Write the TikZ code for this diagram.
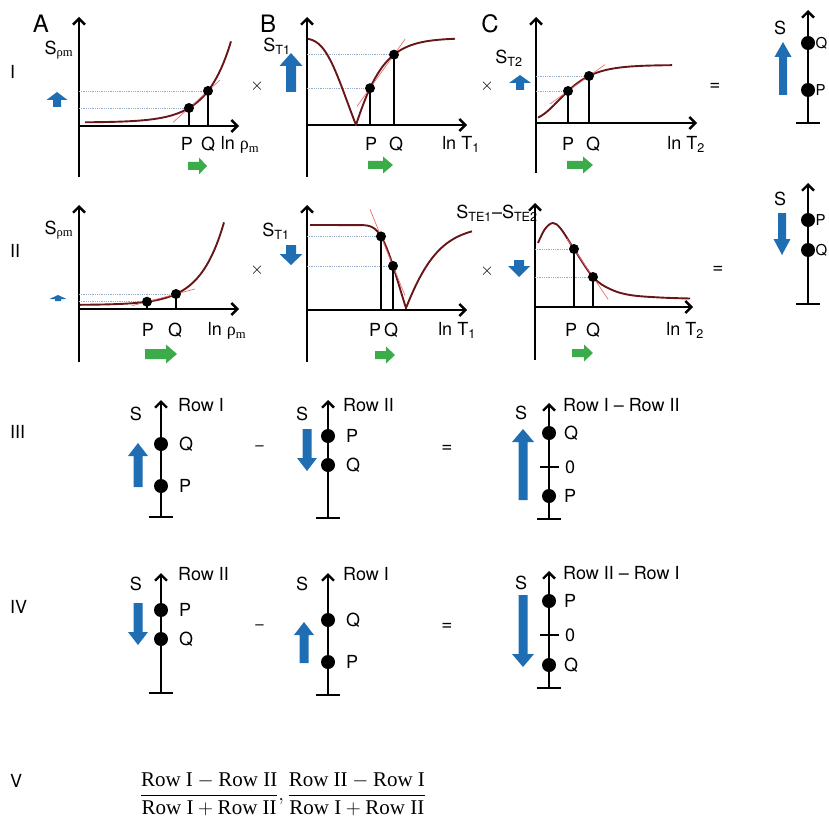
\documentclass[tikz,border=0pt]{standalone}
\usepackage{amsmath}
\usepackage{fontspec}
\setmainfont{TeX Gyre Heros}
\newfontfamily\timesfont{Liberation Serif}
\usepackage{tikz}
\usetikzlibrary{arrows.meta, calc}
\usepackage{xcolor}

\definecolor{sigblue}{RGB}{31,110,180}
\definecolor{shiftgreen}{RGB}{60,172,75}
\definecolor{curvered}{RGB}{105,22,26}
\definecolor{secantred}{RGB}{235,110,110}
\definecolor{guideblue}{RGB}{150,170,205}

\tikzset{
  axis/.style={line width=2.4pt, -{Straight Barb[length=6pt,width=12pt]}},
  base/.style={line width=2.4pt},
  curve/.style={curvered, line width=1.9pt},
  secant/.style={secantred, line width=0.7pt},
  guide/.style={guideblue, line width=0.8pt, densely dotted},
  drop/.style={line width=2.2pt},
  dot/.style={circle, fill=black, inner sep=0pt, minimum size=10pt},
  sdot/.style={circle, fill=black, inner sep=0pt, minimum size=14pt},
  lbl/.style={font=\fontsize{18}{21}\selectfont, inner sep=0pt},
  edgelbl/.style={font=\fontsize{15}{18}\selectfont, inner sep=0pt, anchor=west},
  numeral/.style={font=\fontsize{18}{21}\selectfont, inner sep=0pt, anchor=west},
  op/.style={font=\fontsize{15}{18}\selectfont, inner sep=0pt},
  mulop/.style={font=\fontsize{18}{21}\selectfont, inner sep=0pt},
  eqop/.style={font=\fontsize{19}{22}\selectfont, inner sep=0pt},
  panel/.style={font=\fontsize{24}{28}\selectfont, inner sep=0pt},
}

\newcommand\sigup[6]{\fill[sigblue] ({#1-#4},#2) -- ({#1-#4},{#3+#6}) -- ({#1-#5},{#3+#6}) -- (#1,#3) -- ({#1+#5},{#3+#6}) -- ({#1+#4},{#3+#6}) -- ({#1+#4},#2) -- cycle;}
\newcommand\sigdown[6]{\fill[sigblue] ({#1-#4},#2) -- ({#1-#4},{#3-#6}) -- ({#1-#5},{#3-#6}) -- (#1,#3) -- ({#1+#5},{#3-#6}) -- ({#1+#4},{#3-#6}) -- ({#1+#4},#2) -- cycle;}
\newcommand\shiftright[6]{\fill[shiftgreen] (#1,{#2-#4}) -- ({#3-#6},{#2-#4}) -- ({#3-#6},{#2-#5}) -- (#3,#2) -- ({#3-#6},{#2+#5}) -- ({#3-#6},{#2+#4}) -- (#1,{#2+#4}) -- cycle;}

\begin{document}
\begin{tikzpicture}[x={(1pt,0)}, y={(0,-1pt)},
  declare function={
    fAI(\x)=122.5-14.5*exp(0.041*(\x-189));
    fBIl(\x)=125-87*abs(1-2*exp(-exp(-(0.3665+(\x-356)/23.6))));
    fBIr(\x)=125-87*abs(1-2*exp(-exp(-(0.3665+(\x-356)/19.7))));
    fCI(\x)=121-56*exp(-exp(-(\x-558.6)/20));
    fAII(\x)=305-11*exp(0.042*(\x-176));
    fBIIl(\x)=308-83*abs(1-2*exp(-exp(-(0.3665+(\x-406)/18.5))));
    fBIIr(\x)=308-83*abs(1-2*exp(-exp(-(0.3665+(\x-406)/23))));
  }]
\useasboundingbox (0,0) rectangle (829,821);

\node[panel] (lblA) at (41,24) {A};
\node[panel] (lblB) at (268,24) {B};
\node[panel] (lblC) at (490,24) {C};
\node[numeral] (rowI) at (10,72) {I};
\node[numeral] (rowII) at (10,251) {II};
\node[numeral] (rowIII) at (10,432) {III};
\node[numeral] (rowIV) at (10,607) {IV};
\node[numeral] (rowV) at (10,781) {V};

\coordinate (aIo) at (79,126);
\draw[axis] (79,177) -- (79,17);
\draw[axis] (aIo) -- (239,126);
\coordinate (aIP) at (189,{fAI(189)});
\coordinate (aIQ) at (208,{fAI(208)});
\draw[guide] (aIP -| aIo) -- (aIP);
\draw[guide] (aIQ -| aIo) -- (aIQ);
\draw[curve] plot[domain=85:231, samples=60] (\x,{fAI(\x)});
\draw[secant] ($(aIP)!-0.84!(aIQ)$) -- ($(aIP)!1.63!(aIQ)$);
\draw[drop] (aIP) -- (aIP |- aIo);
\draw[drop] (aIQ) -- (aIQ |- aIo);
\node[dot] (aIPd) at (aIP) {};
\node[dot] (aIQd) at (aIQ) {};
\node[lbl] (aIPl) at (187,144) {P};
\node[lbl] (aIQl) at (208,144) {Q};
\node[lbl] (aIx) at (240,145) {ln {\timesfont ρ}\textsubscript{\timesfont m}};
\node[lbl] (aIy) at (59,50) {S\textsubscript{\timesfont ρm}};
\sigup{57}{107}{92}{4}{10.5}{8}
\shiftright{188}{166}{207}{4}{8.5}{8}
\node[mulop] (timesAI) at (257,86) {$\times$};

\coordinate (bIo) at (307,125);
\draw[axis] (307,177) -- (307,17);
\draw[axis] (bIo) -- (467,125);
\coordinate (bIP) at (370,{fBIr(370)});
\coordinate (bIQ) at (394,{fBIr(394)});
\draw[guide] (bIP -| bIo) -- (bIP);
\draw[guide] (bIQ -| bIo) -- (bIQ);
\draw[curve] plot[domain=308:356, samples=50] (\x,{fBIl(\x)}) -- plot[domain=356:455, samples=80] (\x,{fBIr(\x)});
\draw[secant] ($(bIP)!-0.54!(bIQ)$) -- ($(bIP)!1.46!(bIQ)$);
\draw[drop] (bIP) -- (bIP |- bIo);
\draw[drop] (bIQ) -- (bIQ |- bIo);
\node[dot] (bIPd) at (bIP) {};
\node[dot] (bIQd) at (bIQ) {};
\node[lbl] (bIPl) at (371,144) {P};
\node[lbl] (bIQl) at (396,144) {Q};
\node[lbl] (bIx) at (461,144) {ln T\textsubscript{1}};
\node[lbl] (bIy) at (277,46) {S\textsubscript{T1}};
\sigup{291}{92}{53}{5}{11.5}{13}
\shiftright{368}{165}{393}{4}{8.5}{10}
\node[mulop] (timesBI) at (487,86) {$\times$};

\coordinate (cIo) at (536,123);
\draw[axis] (536,173) -- (536,17);
\draw[axis] (cIo) -- (697,123);
\coordinate (cIP) at (568,{fCI(568)});
\coordinate (cIQ) at (589,{fCI(589)});
\draw[guide] (cIP -| cIo) -- (cIP);
\draw[guide] (cIQ -| cIo) -- (cIQ);
\draw[curve] plot[domain=538:672, samples=60] (\x,{fCI(\x)});
\draw[secant] ($(cIP)!-0.86!(cIQ)$) -- ($(cIP)!1.76!(cIQ)$);
\draw[drop] (cIP) -- (cIP |- cIo);
\draw[drop] (cIQ) -- (cIQ |- cIo);
\node[dot] (cIPd) at (cIP) {};
\node[dot] (cIQd) at (cIQ) {};
\node[lbl] (cIPl) at (568,144) {P};
\node[lbl] (cIQl) at (593,144) {Q};
\node[lbl] (cIx) at (686,144) {ln T\textsubscript{2}};
\node[lbl] (cIy) at (509,58) {S\textsubscript{T2}};
\sigup{520}{90}{75}{4}{11}{8}
\shiftright{567}{165}{593}{4}{8.5}{10}
\node[eqop] (equalsI) at (715,87) {=};

\coordinate (rIbase) at (808,123);
\draw[axis] (rIbase) -- (808,10);
\draw[base] (796,123) -- (820,123);
\node[sdot] (rIQ) at (808,43) {};
\node[sdot] (rIP) at (808,90) {};
\node[edgelbl] (rIQl) at (815.5,43) {Q};
\node[edgelbl] (rIPl) at (815.5,90) {P};
\node[lbl] (rIS) at (780,28) {S};
\sigup{783}{95}{42}{4}{8.5}{15}

\coordinate (aIIo) at (79,309);
\draw[axis] (79,362) -- (79,205);
\draw[axis] (aIIo) -- (239,309);
\coordinate (aIIP) at (147,{fAII(147)});
\coordinate (aIIQ) at (176,{fAII(176)});
\draw[guide] (aIIP -| aIIo) -- (aIIP);
\draw[guide] (aIIQ -| aIIo) -- (aIIQ);
\draw[curve] plot[domain=80:224, samples=60] (\x,{fAII(\x)});
\draw[secant] ($(aIIP)!-0.52!(aIIQ)$) -- ($(aIIP)!1.66!(aIIQ)$);
\draw[drop] (aIIP) -- (aIIP |- aIIo);
\draw[drop] (aIIQ) -- (aIIQ |- aIIo);
\node[dot] (aIIPd) at (aIIP) {};
\node[dot] (aIIQd) at (aIIQ) {};
\node[lbl] (aIIPl) at (148,330) {P};
\node[lbl] (aIIQl) at (175,330) {Q};
\node[lbl] (aIIx) at (227,331) {ln {\timesfont ρ}\textsubscript{\timesfont m}};
\node[lbl] (aIIy) at (59,230) {S\textsubscript{\timesfont ρm}};
\sigup{58}{301}{295}{3}{8.5}{4}
\shiftright{145}{354}{177}{5}{9.5}{11}
\node[mulop] (timesAII) at (257,270) {$\times$};

\coordinate (bIIo) at (307,310);
\draw[axis] (307,362) -- (307,205);
\draw[axis] (bIIo) -- (467,310);
\coordinate (bIIP) at (381,{fBIIl(381)});
\coordinate (bIIQ) at (393,{fBIIl(393)});
\draw[guide] (bIIP -| bIIo) -- (bIIP);
\draw[guide] (bIIQ -| bIIo) -- (bIIQ);
\draw[curve] (310,225) -- plot[domain=362:406, samples=50] (\x,{fBIIl(\x)}) -- plot[domain=406:472, samples=60] (\x,{fBIIr(\x)});
\draw[secant] ($(bIIP)!-0.92!(bIIQ)$) -- ($(bIIP)!2.0!(bIIQ)$);
\draw[drop] (bIIP) -- (bIIP |- bIIo);
\draw[drop] (bIIQ) -- (bIIQ |- bIIo);
\node[dot] (bIIPd) at (bIIP) {};
\node[dot] (bIIQd) at (bIIQ) {};
\node[lbl] (bIIPl) at (375,330) {P};
\node[lbl] (bIIQl) at (391,330) {Q};
\node[lbl] (bIIx) at (457,330) {ln T\textsubscript{1}};
\node[lbl] (bIIy) at (276,231) {S\textsubscript{T1}};
\sigdown{291}{245}{265}{5}{11.5}{11}
\shiftright{375}{355}{395}{4}{8.5}{9}
\node[mulop] (timesBII) at (487,271) {$\times$};

\coordinate (cIIo) at (535,307);
\draw[axis] (535,360) -- (535,203);
\draw[axis] (cIIo) -- (693,307);
\coordinate (cIIP) at (574,249);
\coordinate (cIIQ) at (593,277);
\draw[guide] (cIIP -| cIIo) -- (cIIP);
\draw[guide] (cIIQ -| cIIo) -- (cIIQ);
\draw[curve] plot[smooth, tension=0.6] coordinates {(538,243) (545,229) (553,223) (561,229) (cIIP) (cIIQ) (610,289) (630,295) (660,297.5) (690,298.5)};
\draw[secant] ($(cIIP)!-0.37!(cIIQ)$) -- ($(cIIP)!1.8!(cIIQ)$);
\draw[drop] (cIIP) -- (cIIP |- cIIo);
\draw[drop] (cIIQ) -- (cIIQ |- cIIo);
\node[dot] (cIIPd) at (cIIP) {};
\node[dot] (cIIQd) at (cIIQ) {};
\node[lbl] (cIIPl) at (571,330) {P};
\node[lbl] (cIIQl) at (593,330) {Q};
\node[lbl] (cIIx) at (685,330) {ln T\textsubscript{2}};
\node[lbl] (cIIy) at (497,213) {S\textsubscript{TE1}–S\textsubscript{TE2}};
\sigdown{519}{260}{277}{5}{11}{11}
\shiftright{572}{353}{593}{4}{8.5}{9}
\node[eqop] (equalsII) at (718,270) {=};

\coordinate (rIIbase) at (808,304);
\draw[axis] (rIIbase) -- (808,183);
\draw[base] (796,304) -- (820,304);
\node[sdot] (rIIP) at (808,220) {};
\node[sdot] (rIIQ) at (808,250) {};
\node[edgelbl] (rIIPl) at (815.5,220) {P};
\node[edgelbl] (rIIQl) at (815.5,250) {Q};
\node[lbl] (rIIS) at (780,199) {S};
\sigdown{782}{213}{255}{4}{8.5}{16}

\coordinate (dIIIa) at (161,517);
\draw[axis] (dIIIa) -- (161,400);
\draw[base] (149,517) -- (173,517);
\node[sdot] (dIIIaQ) at (161,444) {};
\node[sdot] (dIIIaP) at (161,486) {};
\node[lbl, anchor=west] (dIIIaQl) at (179,444) {Q};
\node[lbl, anchor=west] (dIIIaPl) at (179,486) {P};
\node[lbl, anchor=west] (dIIIat) at (178,405) {Row I};
\node[lbl] (dIIIaS) at (136,414) {S};
\sigup{138}{487}{443}{4.5}{10}{13}
\node[op] (minusIII) at (259.5,448) {–};

\coordinate (dIIIb) at (328,518);
\draw[axis] (dIIIb) -- (328,400);
\draw[base] (316,518) -- (340,518);
\node[sdot] (dIIIbP) at (328,436) {};
\node[sdot] (dIIIbQ) at (328,465) {};
\node[lbl, anchor=west] (dIIIbPl) at (346,436) {P};
\node[lbl, anchor=west] (dIIIbQl) at (346,465) {Q};
\node[lbl, anchor=west] (dIIIbt) at (343,405) {Row II};
\node[lbl] (dIIIbS) at (302,414) {S};
\sigdown{307}{429}{471}{4.5}{10}{13}
\node[eqop] (equalsIII) at (447,449) {=};

\coordinate (dIIIc) at (549,519);
\draw[axis] (dIIIc) -- (549,403);
\draw[base] (537,519) -- (561,519);
\draw[drop] (540,467) -- (559,467);
\node[sdot] (dIIIcQ) at (549,433) {};
\node[sdot] (dIIIcP) at (549,496) {};
\node[lbl, anchor=west] (dIIIcQl) at (564,433) {Q};
\node[lbl, anchor=west] (dIIIc0) at (565,467) {0};
\node[lbl, anchor=west] (dIIIcPl) at (564,496) {P};
\node[lbl, anchor=west] (dIIIct) at (563,405) {Row I – Row II};
\node[lbl] (dIIIcS) at (521,413) {S};
\sigup{523}{500}{429}{4.5}{11}{13}

\coordinate (dIVa) at (161,693);
\draw[axis] (dIVa) -- (161,573);
\draw[base] (149,693) -- (173,693);
\node[sdot] (dIVaP) at (161,610) {};
\node[sdot] (dIVaQ) at (161,639) {};
\node[lbl, anchor=west] (dIVaPl) at (179,610) {P};
\node[lbl, anchor=west] (dIVaQl) at (179,639) {Q};
\node[lbl, anchor=west] (dIVat) at (178,574) {Row II};
\node[lbl] (dIVaS) at (136,584) {S};
\sigdown{138}{603}{645}{4.5}{10}{13}
\node[op] (minusIV) at (259.5,627) {–};

\coordinate (dIVb) at (328,695);
\draw[axis] (dIVb) -- (328,573);
\draw[base] (316,695) -- (340,695);
\node[sdot] (dIVbQ) at (328,620) {};
\node[sdot] (dIVbP) at (328,662) {};
\node[lbl, anchor=west] (dIVbQl) at (346,620) {Q};
\node[lbl, anchor=west] (dIVbPl) at (346,662) {P};
\node[lbl, anchor=west] (dIVbt) at (343,574) {Row I};
\node[lbl] (dIVbS) at (302,584) {S};
\sigup{304}{663}{622}{4.5}{10}{13}
\node[eqop] (equalsIV) at (447,627) {=};

\coordinate (dIVc) at (549,688);
\draw[axis] (dIVc) -- (549,571);
\draw[base] (537,688) -- (561,688);
\draw[drop] (540,635) -- (559,635);
\node[sdot] (dIVcP) at (549,601) {};
\node[sdot] (dIVcQ) at (549,665) {};
\node[lbl, anchor=west] (dIVcPl) at (564,601) {P};
\node[lbl, anchor=west] (dIVc0) at (565,635) {0};
\node[lbl, anchor=west] (dIVcQl) at (564,665) {Q};
\node[lbl, anchor=west] (dIVct) at (563,573) {Row II – Row I};
\node[lbl] (dIVcS) at (521,583) {S};
\sigdown{523}{595}{667}{4.5}{11}{13}

\node[inner sep=0pt, font=\fontsize{21}{25}\selectfont\timesfont] (ratio) at (283,794)
  {$\dfrac{\mbox{Row I}-\mbox{Row II}}{\mbox{Row I}+\mbox{Row II}},\dfrac{\mbox{Row II}-\mbox{Row I}}{\mbox{Row I}+\mbox{Row II}}$};
\end{tikzpicture}
\end{document}
